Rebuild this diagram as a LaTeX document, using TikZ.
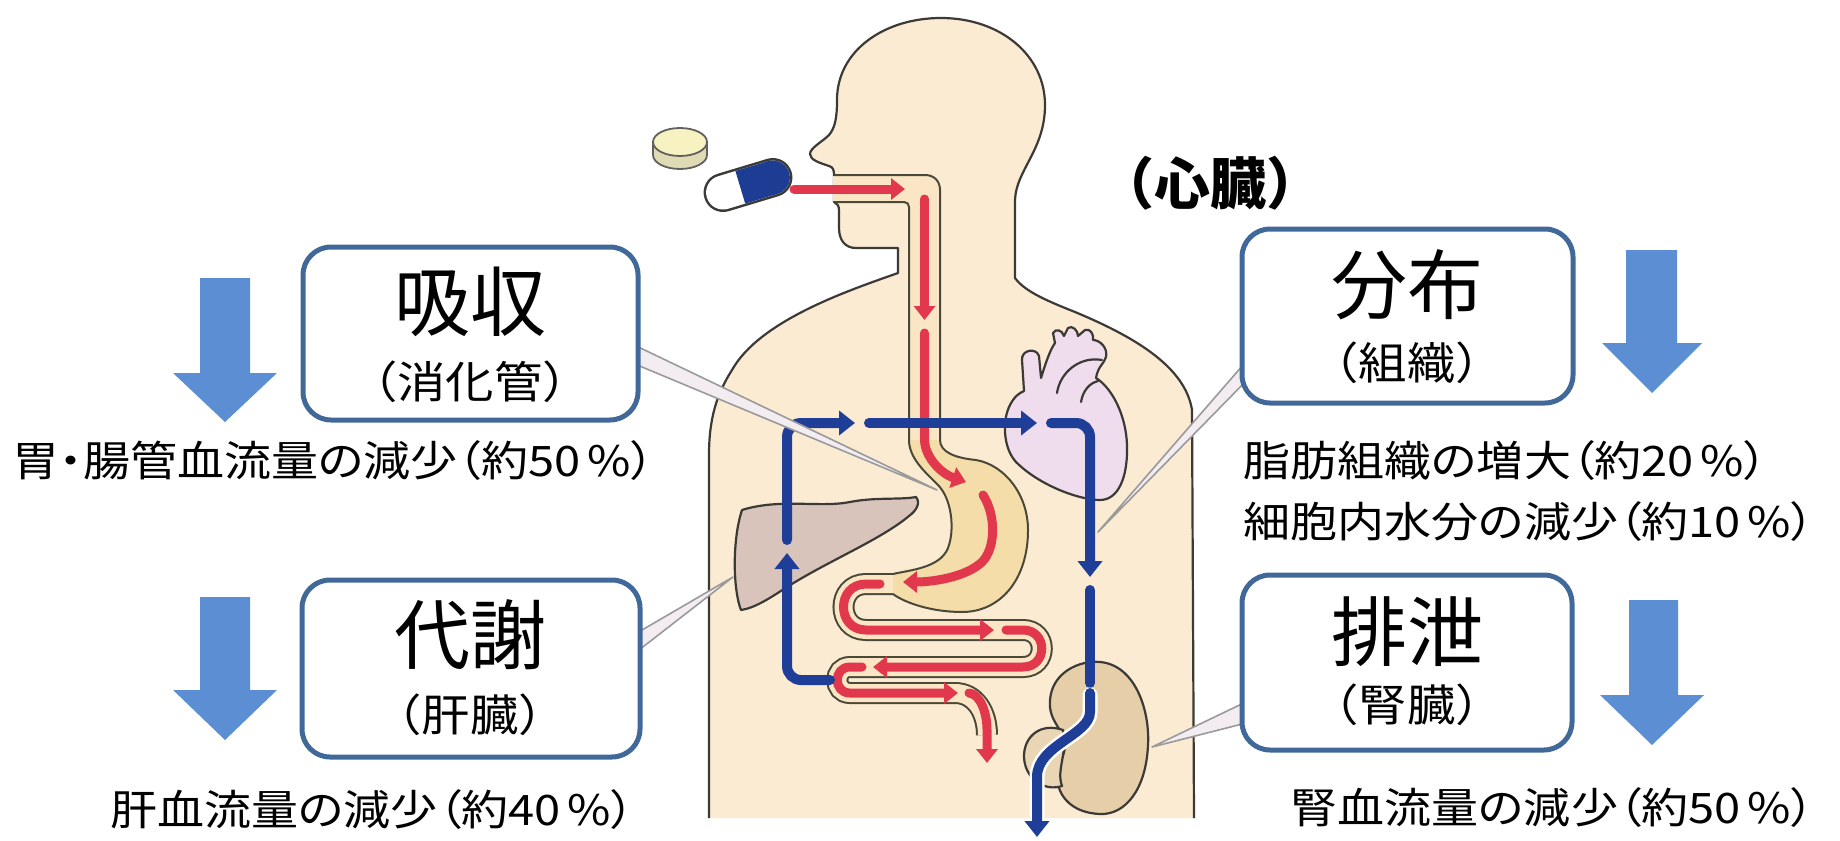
\documentclass[tikz,border=0pt]{standalone}
\usepackage{fontspec}
\setmainfont{Noto Sans CJK JP}
\newfontfamily\notefont[RawFeature=+palt, FakeStretch=1.12]{Noto Sans CJK JP}
\newfontfamily\subfont[FakeStretch=1.1]{Noto Sans CJK JP}
\usetikzlibrary{arrows.meta,calc}
\definecolor{bodyfill}{HTML}{FBEBD3}
\definecolor{outl}{HTML}{3C3A36}
\definecolor{tubefill}{HTML}{FAE6C4}
\definecolor{tubeline}{HTML}{4A4838}
\definecolor{stomfill}{HTML}{F5DDA9}
\definecolor{flowred}{HTML}{E2384D}
\definecolor{flowblue}{HTML}{1E3E98}
\definecolor{boxblue}{HTML}{40699A}
\definecolor{arrowblue}{HTML}{5B8ED2}
\definecolor{liverfill}{HTML}{D9C4BB}
\definecolor{heartfill}{HTML}{EFDCEC}
\definecolor{kidfill}{HTML}{E6CFA8}
\definecolor{ptrgray}{HTML}{9A9A9A}
\definecolor{ptrfill}{HTML}{F3EDF1}
\definecolor{tabletfill}{HTML}{F7F2C2}
\definecolor{capblue}{HTML}{1D3D94}
\tikzset{
  organ/.style={draw=outl, line width=1.1pt, line join=round},
  tubewall/.style={draw=tubeline, line width=1pt},
  redflow/.style={draw=flowred, line width=4.5pt, line cap=round, -{Triangle[length=7pt,width=10.5pt]}},
  blueflow/.style={draw=flowblue, line width=5pt, line cap=round, -{Triangle[length=8pt,width=12pt]}},
  blueseg/.style={draw=flowblue, line width=5pt, line cap=round},
  procbox/.style={draw=boxblue, line width=2.5pt, rounded corners=14pt, fill=white, inner sep=0pt},
  bigtxt/.style={font=\fontsize{38pt}{40pt}\selectfont, inner sep=0pt},
  subtxt/.style={font=\subfont\fontsize{22pt}{24pt}\selectfont, inner sep=0pt},
  notetxt/.style={font=\notefont\fontsize{21pt}{24pt}\selectfont, inner sep=0pt, anchor=west},
  blockarrow/.style={fill=arrowblue},
  pointer/.style={draw=ptrgray, line width=0.8pt, fill=ptrfill, line join=round},
}
\begin{document}
\begin{tikzpicture}[x=0.5pt,y=-0.5pt]
\useasboundingbox (0,0) rectangle (1840,840);

% ---------- body ----------
\path[fill=bodyfill, organ] (709,818) -- (709,455) .. controls (709,420) and (716,395) .. (732,370)
  .. controls (760,320) and (850,290) .. (898,273) -- (898,248) -- (856,248)
  .. controls (845,248) and (839,240) .. (839,228) -- (839,210)
  .. controls (839,206) and (837,203) .. (834,202) -- (834,175)
  .. controls (834,170) and (833,167) .. (829,166) .. controls (820,163) and (810,160) .. (810,154)
  .. controls (810,148) and (822,142) .. (829,135) .. controls (835,128) and (837,118) .. (837,100)
  .. controls (837,50) and (885,18) .. (941,18) .. controls (1000,18) and (1045,55) .. (1045,105)
  .. controls (1045,150) and (1016,170) .. (1015,200) -- (1015,278)
  .. controls (1025,292) and (1050,302) .. (1075,312) .. controls (1130,335) and (1185,365) .. (1192,410)
  -- (1194,818);

% ---------- liver ----------
\path[fill=liverfill, organ] (742,510) .. controls (780,498) and (820,508) .. (850,502)
  .. controls (875,497) and (900,500) .. (916,497) .. controls (921,503) and (916,511) .. (909,516)
  .. controls (880,540) and (830,560) .. (787,587) .. controls (770,598) and (755,608) .. (741,610)
  .. controls (733,590) and (732,540) .. (742,510) -- cycle;

% ---------- heart ----------
\path[fill=heartfill, organ] (1010,405) .. controls (1014,397) and (1019,393) .. (1024,391)
  -- (1022,360) .. controls (1021,350) and (1036,347) .. (1039,356) -- (1041,378)
  .. controls (1046,362) and (1050,350) .. (1055,343) -- (1053,333) .. controls (1056,328) and (1062,330) .. (1064,336)
  -- (1068,328) .. controls (1072,325) and (1078,330) .. (1078,336)
  -- (1085,330) .. controls (1090,328) and (1094,334) .. (1093,340)
  .. controls (1100,340) and (1108,348) .. (1106,357) .. controls (1104,364) and (1098,366) .. (1096,378)
  .. controls (1112,388) and (1126,415) .. (1127,445) .. controls (1128,478) and (1118,500) .. (1100,500)
  .. controls (1080,500) and (1040,486) .. (1016,462) .. controls (1003,448) and (1002,420) .. (1010,405) -- cycle;
\draw[organ, line cap=round] (1057,393) .. controls (1060,372) and (1080,356) .. (1102,360);
\draw[organ, line cap=round] (1081,402) .. controls (1083,390) and (1090,383) .. (1098,381);

% ---------- kidney ----------
\path[fill=kidfill, organ] (1050,700) .. controls (1052,672) and (1080,660) .. (1100,662)
  .. controls (1135,665) and (1150,710) .. (1148,745) .. controls (1146,790) and (1125,815) .. (1100,814)
  .. controls (1075,813) and (1062,800) .. (1058,785) .. controls (1052,770) and (1065,760) .. (1065,745)
  .. controls (1065,730) and (1048,722) .. (1050,700) -- cycle;
\path[fill=kidfill!85!white, organ] (1063,730) .. controls (1040,722) and (1024,737) .. (1024,756)
  .. controls (1024,778) and (1044,792) .. (1062,786) .. controls (1056,770) and (1068,752) .. (1063,730) -- cycle;

% ---------- intestine ----------
\draw[tubewall, double=tubefill, double distance=9pt] (899,584) -- (866,584)
  .. controls (836,584) and (836,630) .. (866,630) -- (1023,630)
  .. controls (1048,630) and (1048,667) .. (1023,667) -- (850,667)
  .. controls (833,667) and (833,693) .. (850,693) -- (955,693)
  .. controls (975,693) and (987,712) .. (987,735);

% ---------- esophagus + stomach ----------
\fill[tubefill] (833,176) -- (926,176) .. controls (934,176) and (939,181) .. (939,189) -- (939,446)
  -- (910,446) -- (910,206) .. controls (910,203) and (909,201) .. (906,201) -- (833,201) -- cycle;
\fill[stomfill] (940,440) .. controls (940,452) and (955,458) .. (976,460)
  .. controls (1005,465) and (1028,495) .. (1028,530) .. controls (1028,580) and (1000,612) .. (962,612)
  .. controls (932,612) and (905,603) .. (893,594) -- (893,574)
  .. controls (910,570) and (940,568) .. (948,548) .. controls (955,530) and (952,498) .. (937,484)
  .. controls (925,472) and (909,458) .. (909,440) -- cycle;
\draw[tubewall] (834,175) -- (925,175) .. controls (934,175) and (940,181) .. (940,190) -- (940,440)
  .. controls (940,452) and (955,458) .. (976,460) .. controls (1005,465) and (1028,495) .. (1028,530)
  .. controls (1028,580) and (1000,612) .. (962,612) .. controls (932,612) and (905,603) .. (893,594);
\draw[tubewall] (834,202) -- (904,202) .. controls (907,202) and (909,204) .. (909,207) -- (909,440)
  .. controls (909,458) and (925,472) .. (937,484) .. controls (952,498) and (955,530) .. (948,548)
  .. controls (940,568) and (910,570) .. (893,574);

% ---------- drug path (red) ----------
\draw[redflow] (794,189) -- (905,189);
\draw[redflow] (924.5,199) -- (924.5,320);
\draw[redflow] (924.5,333) -- (924.5,440) .. controls (925,458) and (942,474) .. (966,482);
\draw[redflow] (983,495) .. controls (996,515) and (996,548) .. (982,562) .. controls (965,578) and (930,582) .. (903,582);
\draw[redflow] (880,584) -- (866,584) .. controls (836,584) and (836,630) .. (866,630) -- (994,630);
\draw[redflow] (1006,630) -- (1023,630) .. controls (1048,630) and (1048,667) .. (1023,667) -- (873,667);
\draw[redflow] (862,667) -- (850,667) .. controls (833,667) and (833,693) .. (850,693) -- (958,693);
\draw[redflow] (969,693) .. controls (980,694) and (987,712) .. (987,730) -- (987,763);

% ---------- circulation (blue) ----------
\draw[blueflow, rounded corners=7pt] (830,680) -- (787,680) -- (787,553);
\draw[blueflow, rounded corners=7pt] (787,540) -- (787,423) -- (855,423);
\draw[blueflow] (869,423) -- (1037,423);
\draw[blueflow, rounded corners=7pt] (1051,423) -- (1090,423) -- (1090,577);
\draw[blueseg] (1090,590) -- (1090,683);
\draw[white, line width=7.5pt, line cap=round] (1090,695) -- (1090,712)
  .. controls (1090,735) and (1037,745) .. (1037,777) -- (1037,815);
\draw[blueflow] (1090,693) -- (1090,712) .. controls (1090,735) and (1037,745) .. (1037,777) -- (1037,837);

% ---------- tablet and capsule ----------
\path[fill=tabletfill!80!gray, draw=outl!80, line width=0.9pt] (680,155) ellipse [x radius=27, y radius=14];
\fill[tabletfill!80!gray] (653,142) rectangle (707,155);
\draw[outl!80, line width=0.9pt] (653,142) -- (653,155) (707,142) -- (707,155);
\path[fill=tabletfill, draw=outl!80, line width=0.9pt] (680,142) ellipse [x radius=27, y radius=14];
\coordinate (capL) at (723.1,192.5);
\coordinate (capR) at (772.9,177.5);
\coordinate (capM) at (740.3,187.3);
\draw[outl, line width=19.5pt, line cap=round] (capL) -- (capR);
\draw[white, line width=17pt, line cap=round] (capL) -- (capR);
\draw[capblue, line width=17pt] (capM) -- (capR);
\fill[capblue] (capR) circle [radius=17];

% ---------- labels: boxes ----------
\coordinate (stomachpt) at (937,490);
\coordinate (liverpt) at (733,577);
\coordinate (tissuept) at (1098,532);
\coordinate (kidneypt) at (1152,747);
\path[pointer] (630,343) -- (stomachpt) -- (630,362);
\path[pointer] (630,637) -- (liverpt) -- (630,657);
\path[pointer] (1250,357) -- (tissuept) -- (1250,377);
\path[pointer] (1250,700) -- (kidneypt) -- (1250,722);

\node[procbox, minimum width=167.5pt, minimum height=86.5pt] (absorb) at (470.5,333.5) {};
\node[procbox, minimum width=169pt, minimum height=88.5pt] (metab) at (471,668.5) {};
\node[procbox, minimum width=165.5pt, minimum height=87pt] (distr) at (1407.5,316) {};
\node[procbox, minimum width=165pt, minimum height=87.5pt] (excr) at (1407,662.5) {};

\node[bigtxt] (absorbT) at (470,302) {吸収};
\node[subtxt] (absorbS) at (470,382) {（消化管）};
\node[bigtxt] (metabT) at (470,635) {代謝};
\node[subtxt] (metabS) at (470,715) {（肝臓）};
\node[bigtxt] (distrT) at (1407,285) {分布};
\node[subtxt] (distrS) at (1407,363) {（組織）};
\node[bigtxt] (excrT) at (1407,632) {排泄};
\node[subtxt] (excrS) at (1407,705) {（腎臓）};

\node[font=\bfseries\fontsize{28pt}{30pt}\selectfont, inner sep=0pt] (heartlbl) at (1210,183) {（心臓）};

% ---------- block arrows ----------
\fill[blockarrow] (200,278) -- (250,278) -- (250,373) -- (277,373) -- (225,422) -- (173,373) -- (200,373) -- cycle;
\fill[blockarrow] (200,597) -- (250,597) -- (250,690) -- (277,690) -- (225,740) -- (173,690) -- (200,690) -- cycle;
\fill[blockarrow] (1626,250) -- (1677,250) -- (1677,343) -- (1702,343) -- (1652,393) -- (1602,343) -- (1626,343) -- cycle;
\fill[blockarrow] (1629,600) -- (1678,600) -- (1678,695) -- (1704,695) -- (1652,745) -- (1600,695) -- (1629,695) -- cycle;

% ---------- notes ----------
\node[notetxt] (noteA) at (12,461) {胃・腸管血流量の減少（約50\,\%）};
\node[notetxt] (noteM) at (110,810) {肝血流量の減少（約40\,\%）};
\node[notetxt] (noteD1) at (1243,461) {脂肪組織の増大（約20\,\%）};
\node[notetxt] (noteD2) at (1243,522) {細胞内水分の減少（約10\,\%）};
\node[notetxt] (noteE) at (1290,808) {腎血流量の減少（約50\,\%）};
\end{tikzpicture}
\end{document}
